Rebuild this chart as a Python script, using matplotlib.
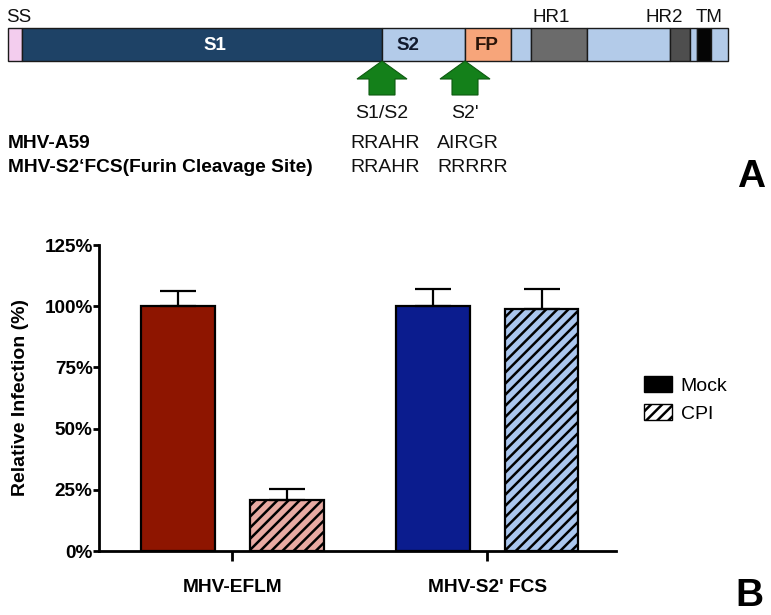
import matplotlib
matplotlib.use("Agg")
import matplotlib.pyplot as plt
from matplotlib.patches import Patch
from matplotlib.ticker import PercentFormatter

plt.rcParams['font.family'] = ['Liberation Sans', 'DejaVu Sans']
plt.rcParams['hatch.linewidth'] = 1.8

# --- panel A: spike domain map (positions along the bar, 8..728) ---
domain_edges = [8, 22, 382, 465, 511, 531, 587, 670, 690, 697, 711, 728]
domain_colors = ['#F3CDEE', '#1E4266', '#B3CBE9', '#F7A57A', '#B3CBE9', '#6B6B6B',
                 '#B3CBE9', '#4E4E4E', '#B3CBE9', '#050505', '#B3CBE9']
inner_labels = ['S1', 'S2', 'FP']
inner_x = [215, 408, 487]
inner_colors = ['white', '#111a2e', '#2a1408']
top_labels = ['SS', 'HR1', 'HR2', 'TM']
top_x = [6, 551, 664, 709]
site_names = ["S1/S2", "S2'"]
site_pos = [382, 465]
strains = ['MHV-A59', 'MHV-S2\u2018FCS(Furin Cleavage Site)']
seq_s1s2 = ['RRAHR', 'RRAHR']
seq_s2p = ['AIRGR', 'RRRRR']

# --- panel B: relative infection ---
groups = ['MHV-EFLM', "MHV-S2' FCS"]
mock = [100, 100]
mock_err = [6.3, 6.9]
cpi = [20.8, 98.8]
cpi_err = [4.5, 8.1]
mock_colors = ['#8E1500', '#0B1C8E']
cpi_colors = ['#E8AAA2', '#AAC6EE']

fig = plt.figure(figsize=(7.71, 6.15), dpi=100)

# panel A, drawn in pixel-like units
axa = fig.add_axes([0, 1 - 200 / 615, 1, 200 / 615])
axa.set_xlim(0, 771)
axa.set_ylim(200, 0)
axa.axis('off')

lefts = domain_edges[:-1]
widths = [b - a for a, b in zip(domain_edges[:-1], domain_edges[1:])]
axa.barh(44.5, widths, left=lefts, height=32.5, color=domain_colors,
         edgecolor='#1a1a1a', linewidth=1.0)
for name, xx, c in zip(inner_labels, inner_x, inner_colors):
    axa.text(xx, 45, name, color=c, fontsize=13.5, fontweight='bold',
             ha='center', va='center')
for name, xx in zip(top_labels, top_x):
    axa.text(xx, 18, name, fontsize=13.5, ha='left' if name == 'SS' else 'center',
             va='center', color='#111')

for name, xx in zip(site_names, site_pos):
    axa.arrow(xx, 95, 0, -34, width=26, head_width=50, head_length=18,
              length_includes_head=True, facecolor='#14801A', edgecolor='#0d5a10',
              linewidth=0.8)
    axa.text(xx, 113, name, fontsize=14, ha='center', va='center', color='#111')

for i, (s, a, b) in enumerate(zip(strains, seq_s1s2, seq_s2p)):
    y = 144 + i * 23
    axa.text(8, y, s, fontsize=13.8, fontweight='bold', ha='left', va='center')
    axa.text(350, y, a, fontsize=14, ha='left', va='center', color='#111')
    axa.text(437, y, b, fontsize=14, ha='left', va='center', color='#111')

fig.text(751 / 771, 1 - 177 / 615, 'A', fontsize=28, fontweight='bold',
         ha='center', va='center')

# panel B
ax = fig.add_axes([99 / 771, 1 - 551 / 615, 516.7 / 771, 306 / 615])
x = [0, 1]
off = 0.213
w = 0.29
ekw = dict(elinewidth=1.6, capthick=1.6, capsize=13, ecolor='black')
ax.bar([i - off for i in x], mock, width=w, color=mock_colors, edgecolor='black',
       linewidth=1.6, yerr=[[0, 0], mock_err], error_kw=ekw, zorder=2)
ax.bar([i + off for i in x], cpi, width=w, color=cpi_colors, edgecolor='black',
       linewidth=1.6, hatch='///', yerr=[[0, 0], cpi_err], error_kw=ekw, zorder=2)

ax.set_xlim(-0.523, 1.504)
ax.set_ylim(0, 125)
ax.set_yticks([0, 25, 50, 75, 100, 125])
ax.yaxis.set_major_formatter(PercentFormatter(xmax=100, decimals=0))
ax.set_xticks(x)
ax.set_xticklabels(groups, fontsize=13.8, fontweight='bold')
for lab in ax.get_yticklabels():
    lab.set_fontweight('bold')
    lab.set_fontsize(13.6)
ax.tick_params(axis='y', length=4, width=2, pad=0.5)
ax.tick_params(axis='x', length=7, width=2, pad=13)
for side in ['top', 'right']:
    ax.spines[side].set_visible(False)
for side in ['left', 'bottom']:
    ax.spines[side].set_linewidth(2)
ax.set_ylabel('Relative Infection (%)', fontsize=14, fontweight='bold')
ax.yaxis.set_label_coords(-0.135, 0.5)

handles = [Patch(facecolor='black', edgecolor='black'),
           Patch(facecolor='white', edgecolor='black', hatch='///')]
fig.legend(handles, ['Mock', 'CPI'], loc='center left',
           bbox_to_anchor=(644 / 771, 1 - 399.5 / 615), frameon=False,
           fontsize=14, borderpad=0, borderaxespad=0, handlelength=1.44,
           handleheight=0.88, handletextpad=0.45, labelspacing=0.45)

fig.text(749 / 771, 1 - 596 / 615, 'B', fontsize=28, fontweight='bold',
         ha='center', va='center')

fig.savefig('out.png', dpi=100)
